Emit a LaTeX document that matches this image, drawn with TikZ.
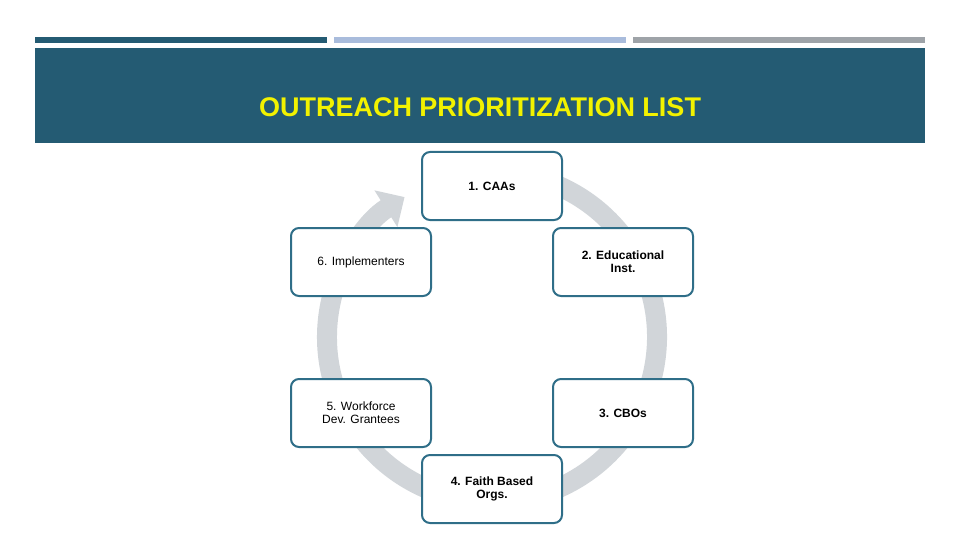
\documentclass[tikz,border=0pt]{standalone}
\usepackage{fontspec}
\setmainfont{Liberation Sans}
\usetikzlibrary{arrows.meta}
\definecolor{teal}{HTML}{245B73}
\definecolor{lblue}{HTML}{A9BCDC}
\definecolor{lgray}{HTML}{9EA3A8}
\definecolor{ring}{HTML}{D1D5D9}
\definecolor{bord}{HTML}{2F6E88}
\definecolor{ttl}{HTML}{F2F200}
\begin{document}
\begin{tikzpicture}[x=1pt,y=-1pt,
  box/.style={draw=bord,line width=2pt,fill=white,rounded corners=8pt,minimum width=140pt,minimum height=68pt,align=center,font=\fontsize{12}{13}\selectfont\bfseries},
  boxn/.style={box,font=\fontsize{12}{13}\selectfont}]
\useasboundingbox (0,0) rectangle (960,540);
\fill[teal] (35,37) rectangle (327,43);
\fill[lblue] (334,37) rectangle (626,43);
\fill[lgray] (633,37) rectangle (925,43);
\fill[teal] (35,48) rectangle (925,143);
\node[text=ttl,font=\fontsize{27}{30}\selectfont\bfseries] (title) at (480,107) {OUTREACH PRIORITIZATION LIST};
\draw[ring,line width=20pt,-{Triangle[width=42pt,length=22pt]}] (492,337) ++(-80:165) arc[start angle=-80,end angle=238,radius=165];
\node[box] (n1) at (492,186) {1. CAAs};
\node[box] (n2) at (623,262) {2. Educational\\Inst.};
\node[box] (n3) at (623,413) {3. CBOs};
\node[box] (n4) at (492,489) {4. Faith Based\\Orgs.};
\node[boxn] (n5) at (361,413) {5. Workforce\\Dev. Grantees};
\node[boxn] (n6) at (361,262) {6. Implementers};
\end{tikzpicture}
\end{document}
